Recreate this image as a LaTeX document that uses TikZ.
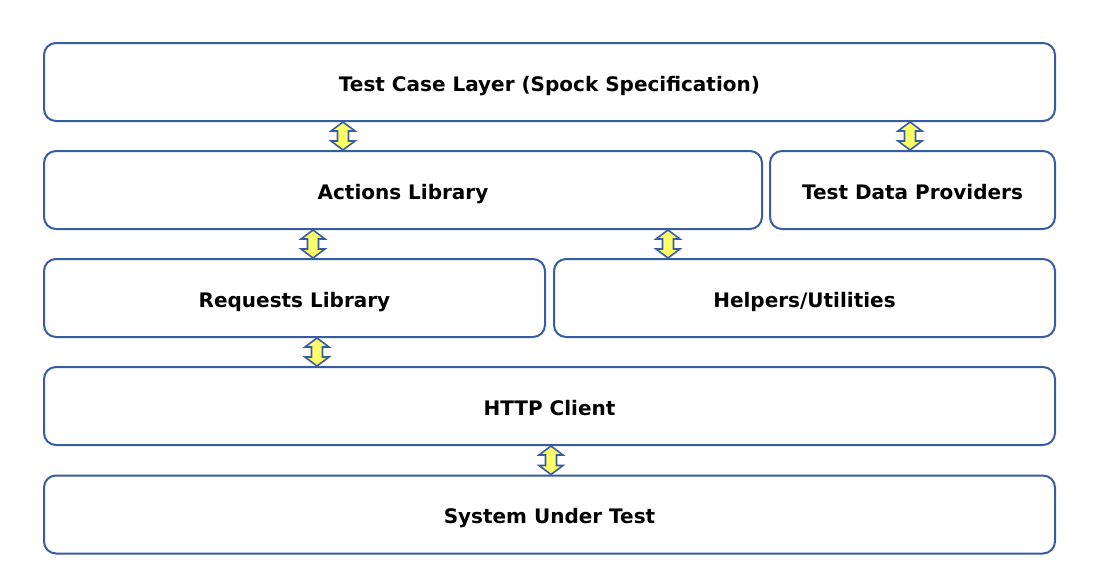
\documentclass[tikz,border=0pt]{standalone}
\usepackage{fontspec}
\setmainfont{DejaVu Sans}
\usetikzlibrary{calc}
\definecolor{boxblue}{RGB}{56,92,162}
\definecolor{arrowyellow}{RGB}{255,255,102}

\begin{document}
\begin{tikzpicture}[x=0.5pt, y=-0.5pt,
    layer/.style={rectangle, rounded corners=6pt, draw=boxblue, line width=1pt, minimum height=39pt, inner sep=0pt, text height=9.3pt, text depth=0pt, font=\fontsize{10}{12}\selectfont\bfseries},
    updown/.style={draw=boxblue, fill=arrowyellow, line width=0.8pt, line join=miter,
      to path={(\tikztostart) -- ($(\tikztostart)+(6pt,-4.5pt)$) -- ($(\tikztostart)+(2.75pt,-4.5pt)$)
        -- ($(\tikztotarget)+(2.75pt,4.5pt)$) -- ($(\tikztotarget)+(6pt,4.5pt)$) -- (\tikztotarget)
        -- ($(\tikztotarget)+(-6pt,4.5pt)$) -- ($(\tikztotarget)+(-2.75pt,4.5pt)$)
        -- ($(\tikztostart)+(-2.75pt,-4.5pt)$) -- ($(\tikztostart)+(-6pt,-4.5pt)$) -- cycle}}]
      \useasboundingbox (0,0) rectangle (1098,574);

      % layers, top to bottom
      \node[layer, minimum width=505.5pt] (spec) at (549.5, 82) {Test Case Layer (Spock Specification)};
      \node[layer, minimum width=359pt] (actions) at (403, 190) {Actions Library};
      \node[layer, minimum width=142.5pt] (data) at (912.5, 190) {Test Data Providers};
      \node[layer, minimum width=250.5pt] (requests) at (294.5, 298) {Requests Library};
      \node[layer, minimum width=250.5pt] (helpers) at (804.5, 298) {Helpers/Utilities};
      \node[layer, minimum width=505.5pt] (http) at (549.5, 406) {HTTP Client};
      \node[layer, minimum width=505.5pt] (sut) at (549.5, 514.5) {System Under Test};

      % where the arrows stand
      \coordinate (x1) at (343, 0);
      \coordinate (x2) at (910, 0);
      \coordinate (x3) at (313, 0);
      \coordinate (x4) at (668, 0);
      \coordinate (x5) at (317, 0);
      \coordinate (x6) at (551, 0);

      \draw[updown] (spec.south -| x1) to (actions.north -| x1);
      \draw[updown] (spec.south -| x2) to (data.north -| x2);
      \draw[updown] (actions.south -| x3) to (requests.north -| x3);
      \draw[updown] (actions.south -| x4) to (helpers.north -| x4);
      \draw[updown] (requests.south -| x5) to (http.north -| x5);
      \draw[updown] (http.south -| x6) to (sut.north -| x6);
    \end{tikzpicture}
\end{document}
